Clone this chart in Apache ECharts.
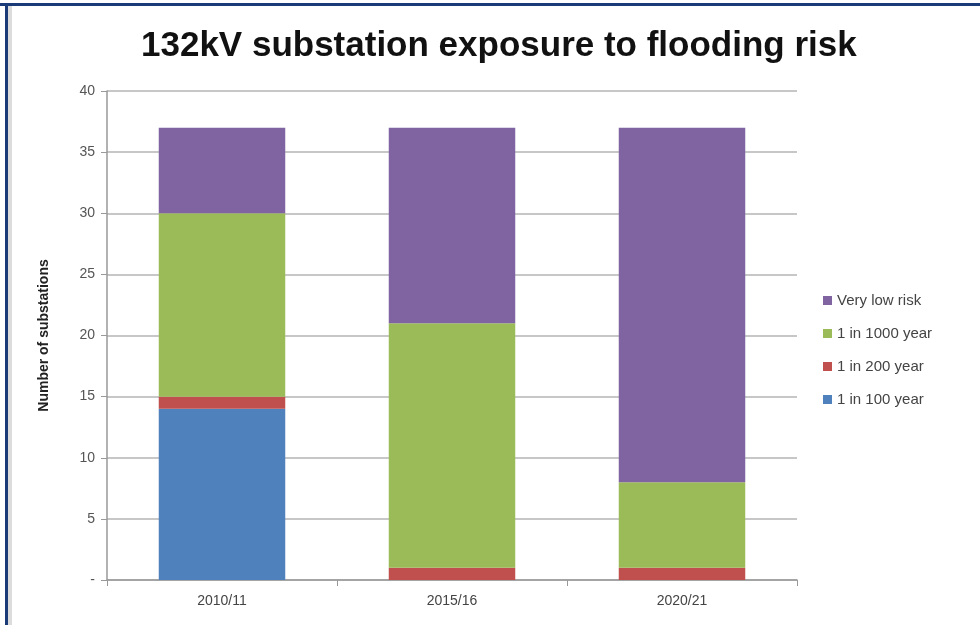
<!DOCTYPE html>
<html><head><meta charset="utf-8">
<script src="https://cdn.jsdelivr.net/npm/echarts@6/dist/echarts.min.js"></script>
<style>html,body{margin:0;padding:0;background:#fff}#c{width:980px;height:625px}</style>
</head><body><div id="c"></div>
<script>
const categories = ['2010/11', '2015/16', '2020/21'];
const oneIn100 = [14, 0, 0];
const oneIn200 = [1, 1, 1];
const oneIn1000 = [15, 20, 7];
const veryLow = [7, 16, 29];
const yTicks = [0, 5, 10, 15, 20, 25, 30, 35, 40];

const chart = echarts.init(document.getElementById('c'));
const font = 'Liberation Sans, Arial, sans-serif';
const mk = (name, data, color) => ({
  name, type: 'bar', stack: 'a', data, barWidth: '55%',
  itemStyle: { color }, emphasis: { disabled: true }
});
chart.setOption({
  animation: false,
  backgroundColor: '#fff',
  graphic: [
    { type: 'rect', shape: { x: 0, y: 3, width: 980, height: 3 }, style: { fill: '#1a3a78' } },
    { type: 'rect', shape: { x: 5, y: 3, width: 3, height: 622 }, style: { fill: '#1a3a78' } },
    { type: 'rect', shape: { x: 8, y: 6, width: 4, height: 619 }, style: { fill: '#dcdcdc' } }
  ],
  title: {
    text: '132kV substation exposure to flooding risk',
    left: 136, top: 24,
    textStyle: { fontFamily: font, fontSize: 35, fontWeight: 'bold', color: '#111' }
  },
  legend: {
    data: ['Very low risk', '1 in 1000 year', '1 in 200 year', '1 in 100 year'],
    orient: 'vertical', left: 818, top: 288, itemWidth: 9, itemHeight: 9, itemGap: 18,
    icon: 'rect',
    textStyle: { fontFamily: font, fontSize: 15, color: '#444' }
  },
  grid: { left: 107, right: 183, top: 91, bottom: 45 },
  xAxis: {
    type: 'category', data: categories,
    axisLine: { lineStyle: { color: '#999', width: 1.5 } },
    axisTick: { show: true, length: 6, lineStyle: { color: '#999' } },
    axisLabel: { fontFamily: font, fontSize: 14, color: '#444', margin: 14 }
  },
  yAxis: {
    type: 'value', min: 0, max: 40, interval: 5,
    name: 'Number of substations', nameLocation: 'middle', nameGap: 56,
    nameTextStyle: { fontFamily: font, fontSize: 14, fontWeight: 'bold', color: '#222' },
    axisLine: { show: true, lineStyle: { color: '#999', width: 1.5 } },
    axisTick: { show: true, length: 6, lineStyle: { color: '#999' } },
    splitLine: { lineStyle: { color: '#b5b5b5', width: 1.5 } },
    axisLabel: { fontFamily: font, fontSize: 14, color: '#555', margin: 12,
      formatter: v => (yTicks.includes(v) ? (v === 0 ? '-' : String(v)) : '') }
  },
  series: [
    mk('1 in 100 year', oneIn100, '#4F81BD'),
    mk('1 in 200 year', oneIn200, '#C0504D'),
    mk('1 in 1000 year', oneIn1000, '#9BBB59'),
    mk('Very low risk', veryLow, '#8064A2')
  ]
});
</script></body></html>
